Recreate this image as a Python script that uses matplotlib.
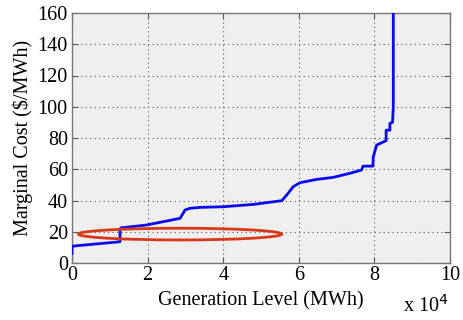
import matplotlib
matplotlib.use("Agg")
import matplotlib.pyplot as plt
from matplotlib.patches import Ellipse

# Generation level (MWh) and marginal cost ($/MWh)
gen_mwh = [0, 0, 200, 12700, 12700, 13000, 19700, 28600, 29900, 31200, 33900,
           40000, 48000, 55500, 56800, 58500, 60300, 64700, 69100, 73500,
           76600, 77000, 79600, 79700, 80600, 83100, 83100, 84100, 84100,
           84800, 85000, 85000]
cost = [6, 10.5, 10.8, 13.6, 21.8, 22.5, 24.3, 28.6, 33.9, 35.0, 35.6,
        36.0, 37.5, 39.9, 43.5, 48.8, 51.4, 53.5, 54.8, 57.4,
        59.5, 62.0, 62.0, 68.0, 75.5, 78.3, 85.0, 85.0, 89.4,
        90.0, 100.0, 165.0]

x_ticks = [0, 20000, 40000, 60000, 80000, 100000]
x_tick_labels = ["0", "2", "4", "6", "8", "10"]
y_ticks = [0, 20, 40, 60, 80, 100, 120, 140, 160]

# highlighted region (ellipse)
ell_center = (28600, 18.5)
ell_width = 53800
ell_height = 7.5

plt.rcParams['font.family'] = ['Liberation Serif', 'DejaVu Serif']

fig = plt.figure(figsize=(4.63, 3.2), dpi=100)
ax = fig.add_axes([72/463, 1-263/320, (450-72)/463, (263-13)/320])
ax.set_facecolor('#efefef')

ax.plot(gen_mwh, cost, color='#0a0aee', lw=2.0, zorder=3)
ax.add_patch(Ellipse(ell_center, ell_width, ell_height, fill=False,
                     edgecolor='#d8381a', lw=2.0, zorder=4))

ax.set_xlim(0, 100000)
ax.set_ylim(0, 160)
ax.set_xticks(x_ticks)
ax.set_xticklabels(x_tick_labels)
ax.set_yticks(y_ticks)
ax.grid(True, color='#555555', linestyle=(0, (1, 3)), lw=0.8)
ax.tick_params(direction='in', top=True, right=True, labelsize=14.5,
               length=4, color='#555555')
ax.tick_params(axis='x', pad=2)
ax.tick_params(axis='y', pad=3)
for s in ax.spines.values():
    s.set_color('#777777')
    s.set_linewidth(1.0)

ax.set_xlabel('Generation Level (MWh)', fontsize=14.5, labelpad=5)
ax.set_ylabel('Marginal Cost ($/MWh)', fontsize=14.5, labelpad=3)
fig.text(0.968, 0.01, r'x 10$^{4}$', fontsize=14.5, ha='right', va='bottom')

fig.savefig('out.png', dpi=100, facecolor='white')
